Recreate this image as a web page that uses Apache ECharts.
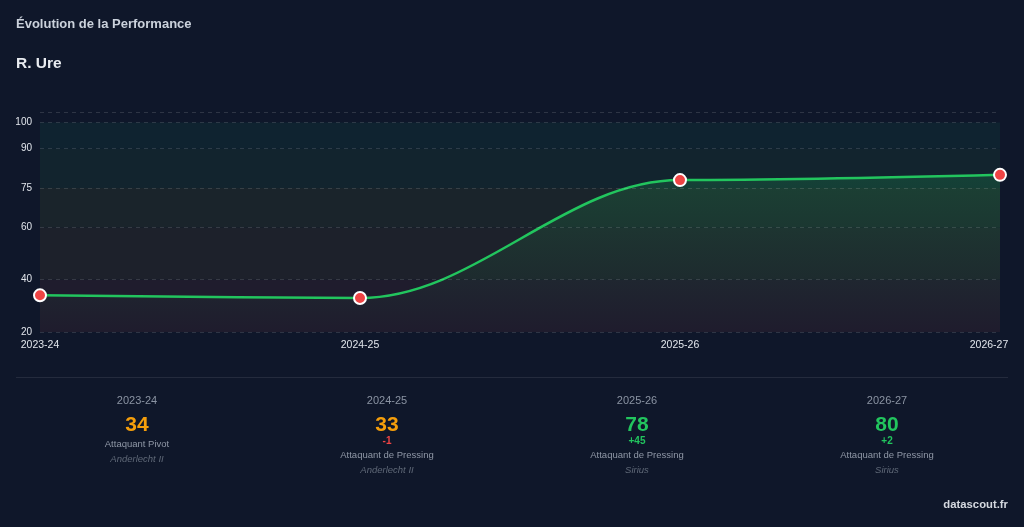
<!DOCTYPE html>
<html lang="fr">
<head>
<meta charset="utf-8">
<title>Évolution de la Performance</title>
<script src="https://cdn.jsdelivr.net/npm/echarts@6/dist/echarts.min.js"></script>
<style>
  html, body { margin: 0; padding: 0; background: #0f172a; }
  body { width: 1024px; height: 527px; position: relative; overflow: hidden;
         font-family: "Liberation Sans", Arial, Helvetica, sans-serif; }
  #chart { position: absolute; left: 0; top: 0; width: 1024px; height: 527px; }
  .title { position: absolute; left: 16px; top: 16px; font-size: 13px; font-weight: bold;
           color: #cbd2dc; line-height: 16px; }
  .player { position: absolute; left: 16px; top: 54px; font-size: 15.5px; font-weight: bold;
            color: #e8ebf0; line-height: 18px; }
  .divider { position: absolute; left: 16px; top: 377px; width: 992px; height: 1px;
             background: rgba(255,255,255,0.09); }
  #stats { position: absolute; left: 12px; top: 393px; width: 1000px; display: flex; }
  .col { width: 250px; text-align: center; }
  .year { font-size: 11px; line-height: 14px; color: #8b94a3; margin-bottom: 5px; }
  .val { font-size: 21px; line-height: 24px; font-weight: bold; }
  .delta { font-size: 10px; line-height: 12px; font-weight: bold; margin-top: -1px; }
  .role { font-size: 9.5px; line-height: 13px; color: #8f97a6; margin-top: 1px; }
  .club { font-size: 9.5px; line-height: 13px; color: #5f6877; font-style: italic; margin-top: 2px; }
  .brand { position: absolute; right: 16px; top: 497px; font-size: 11.3px; font-weight: bold;
           color: #d5d9e0; line-height: 14px; }
</style>
</head>
<body>
<div id="chart"></div>
<div class="title">Évolution de la Performance</div>
<div class="player">R. Ure</div>
<div class="divider"></div>
<div id="stats"></div>
<div class="brand">datascout.fr</div>
<script>
// season data
var seasons = ['2023-24', '2024-25', '2025-26', '2026-27'];
var ratings = [34, 33, 78, 80];
var roles = ['Attaquant Pivot', 'Attaquant de Pressing', 'Attaquant de Pressing', 'Attaquant de Pressing'];
var clubs = ['Anderlecht II', 'Anderlecht II', 'Sirius', 'Sirius'];

// y axis
var yLabels = [20, 40, 60, 75, 90, 100];
var yGrid = [20, 40, 60, 75, 90, 100, 104];

// rating zones
var bandFrom = [20, 40, 60, 75, 90];
var bandTo = [40, 60, 75, 90, 100];
var bandColors = ['#1f1c2d', '#1d212b', '#1a242b', '#12242e', '#0f2330'];

var green = '#22c55e';
var orange = '#f59e0b';
var red = '#ef4444';

function ratingColor(v) {
    return v >= 70 ? green : orange;
}

// stats row under the chart
var statsHtml = '';
for (var i = 0; i < seasons.length; i++) {
    var d = i > 0 ? ratings[i] - ratings[i - 1] : null;
    statsHtml += '<div class="col">' +
        '<div class="year">' + seasons[i] + '</div>' +
        '<div class="val" style="color:' + ratingColor(ratings[i]) + '">' + ratings[i] + '</div>' +
        (d !== null ? '<div class="delta" style="color:' + (d < 0 ? red : green) + '">' + (d > 0 ? '+' : '') + d + '</div>' : '') +
        '<div class="role">' + roles[i] + '</div>' +
        '<div class="club">' + clubs[i] + '</div>' +
        '</div>';
}
document.getElementById('stats').innerHTML = statsHtml;

var bands = bandFrom.map(function (f, i) {
    return [{ yAxis: f, itemStyle: { color: bandColors[i] } }, { yAxis: bandTo[i] }];
});

var gridLines = yGrid.map(function (v) {
    return { yAxis: v };
});

var chart = echarts.init(document.getElementById('chart'), null, { renderer: 'canvas' });

var option = {
    backgroundColor: 'transparent',
    animation: false,
    grid: { left: 40, right: 24, top: 112, bottom: 195 },
    xAxis: {
        type: 'category',
        data: seasons,
        boundaryGap: false,
        axisLine: { show: false },
        axisTick: { show: false },
        splitLine: { show: false },
        axisLabel: {
            color: '#e2e6ec',
            fontSize: 10.5,
            fontFamily: 'Liberation Sans, Arial, sans-serif',
            margin: 8,
            interval: 0,
            formatter: function (v, idx) {
                return idx === seasons.length - 1 ? '{last|' + v + '}' : v;
            },
            rich: {
                last: {
                    color: '#e2e6ec',
                    fontSize: 10.5,
                    fontFamily: 'Liberation Sans, Arial, sans-serif',
                    padding: [0, 22, 0, 0]
                }
            }
        }
    },
    yAxis: {
        type: 'value',
        min: 20,
        max: 104,
        axisLine: { show: false },
        axisTick: { show: false },
        axisLabel: {
            color: '#e2e6ec',
            fontSize: 10,
            fontFamily: 'Liberation Sans, Arial, sans-serif',
            margin: 8,
            customValues: yLabels
        },
        splitLine: { show: false }
    },
    series: [
        {
            type: 'line',
            data: ratings,
            smooth: 0.36,
            smoothMonotone: 'x',
            symbol: 'circle',
            symbolSize: 12,
            lineStyle: { color: green, width: 2.5 },
            itemStyle: { color: red, borderColor: '#ffffff', borderWidth: 2 },
            areaStyle: {
                color: new echarts.graphic.LinearGradient(0, 0, 0, 1, [
                    { offset: 0, color: 'rgba(34,197,94,0.26)' },
                    { offset: 1, color: 'rgba(34,197,94,0)' }
                ])
            },
            markArea: {
                silent: true,
                data: bands
            },
            markLine: {
                silent: true,
                symbol: 'none',
                label: { show: false },
                lineStyle: { color: 'rgba(255,255,255,0.13)', type: [4, 4], width: 1 },
                emphasis: { disabled: true },
                data: gridLines
            },
            z: 3
        }
    ]
};

chart.setOption(option);
</script>
</body>
</html>
